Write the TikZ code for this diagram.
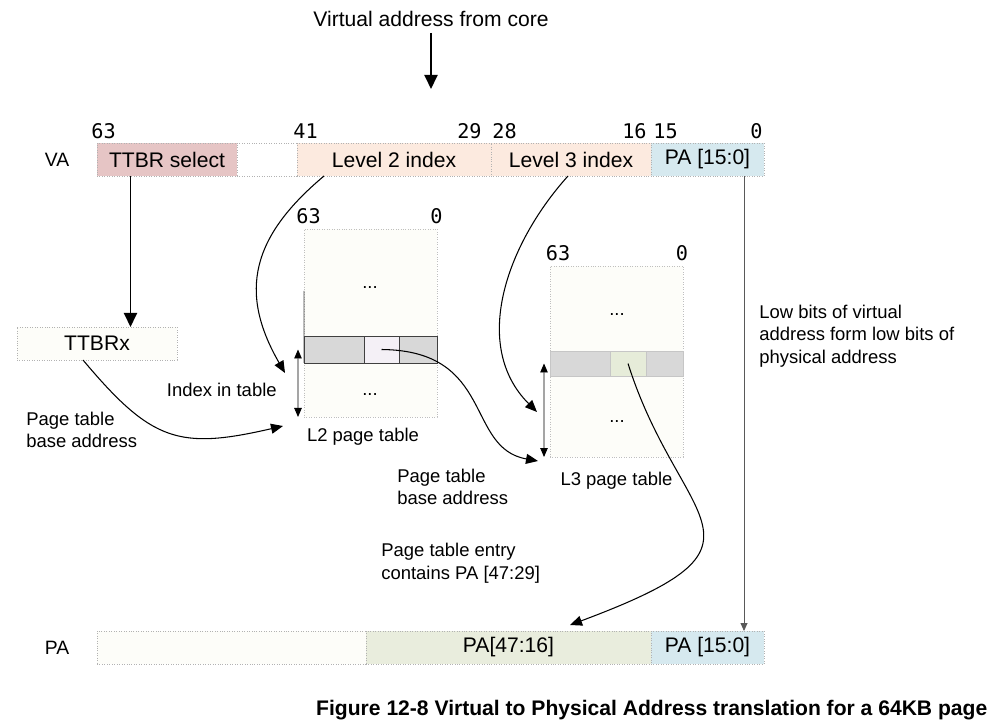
\documentclass[tikz,border=0pt]{standalone}
\usepackage{fontspec}
\setmainfont{Liberation Sans}
\newfontfamily\bitfont{DejaVu Sans Mono}
\usetikzlibrary{positioning,arrows.meta}
\definecolor{ttbrcol}{RGB}{230,197,197}
\definecolor{idxcol}{RGB}{252,234,223}
\definecolor{locol}{RGB}{214,233,239}
\definecolor{hicol}{RGB}{233,237,221}
\definecolor{rowgray}{RGB}{216,216,216}
\definecolor{lavcol}{RGB}{244,240,246}
\definecolor{entcol}{RGB}{230,236,217}
\definecolor{offwhite}{RGB}{253,253,249}

\begin{document}
\begin{tikzpicture}[
		font=\fontsize{12}{13}\selectfont,
		node distance=0pt,
		seg/.style={draw=gray!60, densely dotted, minimum height=0.66cm, inner sep=0pt, outer sep=0pt},
		tbl/.style={draw=gray!50, densely dotted, fill=offwhite, minimum width=2.66cm, inner sep=0pt, outer sep=0pt},
		cell/.style={inner sep=0pt, outer sep=0pt},
		bit/.style={font=\bitfont\fontsize{11.5}{13}\selectfont, inner sep=0pt},
		note/.style={align=left, inner sep=0pt, font=\fontsize{10.5}{12.8}\selectfont},
		feed/.style={line width=1.1pt, -{Triangle[length=0.28cm, width=0.26cm]}},
		link/.style={line width=0.6pt, -{Triangle[length=0.24cm, width=0.2cm]}},
		span/.style={line width=0.5pt, {Triangle[length=0.18cm, width=0.15cm]}-{Triangle[length=0.18cm, width=0.15cm]}},
		pass/.style={draw=gray!70!black, line width=0.5pt, -{Triangle[length=0.16cm, width=0.14cm]}}
		]
		\useasboundingbox (0,0) rectangle (19.84,14.46);

		% virtual address
		\node (core) at (8.62,14.08) {Virtual address from core};
		\coordinate (vatop) at (8.62,12.68);
		\draw[feed] (core) -- (vatop);

		\node[font=\fontsize{11}{13}\selectfont] (va) at (1.14,11.27) {VA};
		\node[seg, fill=ttbrcol, minimum width=2.8cm] (ttbr) at (3.34,11.27) {TTBR select};
		\node[seg, fill=white, minimum width=1.2cm, right=of ttbr] (gap) {};
		\node[seg, fill=idxcol, minimum width=3.88cm, right=of gap] (l2idx) {Level 2 index};
		\node[seg, fill=idxcol, minimum width=3.2cm, right=of l2idx] (l3idx) {Level 3 index};
		\node[seg, fill=locol, minimum width=2.26cm, right=of l3idx] (valo) {PA [15:0]};

		\node[bit, anchor=west] (b63) at (1.82,11.84) {63};
		\node[bit, anchor=west] (b41) at (5.86,11.84) {41};
		\node[bit, anchor=east] (b29) at (9.64,11.84) {29};
		\node[bit, anchor=west] (b28) at (9.84,11.84) {28};
		\node[bit, anchor=east] (b16) at (12.94,11.84) {16};
		\node[bit, anchor=west] (b15) at (13.06,11.84) {15};
		\node[bit, anchor=east] (b0) at (15.26,11.84) {0};

		% TTBR
		\node[seg, fill=offwhite, minimum width=3.2cm] (ttbrx) at (1.94,7.59) {TTBRx};
		\draw[feed] (2.61,0 |- ttbr.south) -- (2.61,0 |- ttbrx.north);
		\node[note, anchor=west] (base1) at (0.52,5.86) {Page table\\base address};

		% L2 table
		\node[tbl, minimum height=3.76cm] (l2) at (7.41,8.00) {};
		\node[cell, fill=rowgray, draw=gray!50!black, minimum width=1.2cm, minimum height=0.54cm] (l2a) at (6.68,7.47) {};
		\node[cell, fill=lavcol, draw=gray!50!black, minimum width=0.7cm, minimum height=0.54cm, right=of l2a] (l2e) {};
		\node[cell, fill=rowgray, draw=gray!50!black, minimum width=0.76cm, minimum height=0.54cm, right=of l2e] (l2c) {};
		\draw[gray!50!black] (l2.west |- 0,8.64) -- (l2a.south west);
		\node[bit] (l2hi) at (6.17,10.14) {63};
		\node[bit] (l2lo) at (8.73,10.14) {0};
		\node[note] (l2top) at (7.40,8.70) {...};
		\node[note] (l2bot) at (7.40,6.56) {...};
		\node[note] (l2name) at (7.26,5.72) {L2 page table};
		\draw[span] ([xshift=-0.12cm]l2a.west) -- ([xshift=-0.12cm]l2.south west);
		\node[note, anchor=east] (idx) at (5.54,6.66) {Index in table};

		% L3 table
		\node[tbl, minimum height=3.82cm] (l3) at (12.33,7.23) {};
		\node[cell, fill=rowgray, draw=gray!45, minimum width=1.2cm, minimum height=0.5cm] (l3a) at (11.60,7.19) {};
		\node[cell, fill=entcol, draw=gray!45, minimum width=0.72cm, minimum height=0.5cm, right=of l3a] (l3e) {};
		\node[cell, fill=rowgray, draw=gray!45, minimum width=0.74cm, minimum height=0.5cm, right=of l3e] (l3c) {};
		\node[bit] (l3hi) at (11.16,9.40) {63};
		\node[bit] (l3lo) at (13.64,9.40) {0};
		\node[note] (l3top) at (12.34,8.16) {...};
		\node[note] (l3bot) at (12.34,6.02) {...};
		\node[note] (l3name) at (12.33,4.84) {L3 page table};
		\draw[span] ([xshift=-0.12cm]l3a.west) -- ([xshift=-0.12cm]l3.south west);
		\node[note, anchor=west] (base2) at (7.94,4.72) {Page table\\base address};
		\node[note, anchor=west] (entry) at (7.62,3.20) {Page table entry\\contains PA [47:29]};

		% physical address
		\node[font=\fontsize{11}{13}\selectfont] (pa) at (1.14,1.51) {PA};
		\node[seg, fill=offwhite, minimum width=5.38cm] (pablank) at (4.63,1.51) {};
		\node[seg, fill=hicol, minimum width=5.7cm, right=of pablank] (pahi) {PA[47:16]};
		\node[seg, fill=locol, minimum width=2.26cm, right=of pahi] (palo) {PA [15:0]};
		\node[note, anchor=west] (low) at (15.18,7.74) {Low bits of virtual\\address form low bits of\\physical address};
		\draw[pass] (14.88,0 |- valo.south) -- (14.88,0 |- palo.north);

		% links between tables
		\coordinate (l2base) at (5.66,5.94);
		\coordinate (l2in) at (5.70,7.00);
		\coordinate (l3base) at (10.76,5.24);
		\coordinate (l3in) at (10.74,6.22);
		\coordinate (pain) at (11.40,1.96);
		\draw[link] ([xshift=-0.28cm]ttbrx.south) to[out=-50, in=193, looseness=1.3] (l2base);
		\draw[link] ([xshift=0.54cm]l2idx.south west) to[out=220, in=120, looseness=1.2] (l2in);
		\draw[link] ([xshift=1.54cm]l3idx.south west) to[out=228, in=135] (l3in);
		\draw[link] (l2e.center) .. controls (9.9,7.45) and (9.3,5.5) .. (l3base);
		\draw[link] (l3e.center) .. controls (13.6,3.9) and (15.8,3.6) .. (pain);

		\node[anchor=west, font=\fontsize{12}{13}\selectfont\bfseries] (cap) at (6.2,0.26) {Figure 12-8 Virtual to Physical Address translation for a 64KB page};
	\end{tikzpicture}
\end{document}
